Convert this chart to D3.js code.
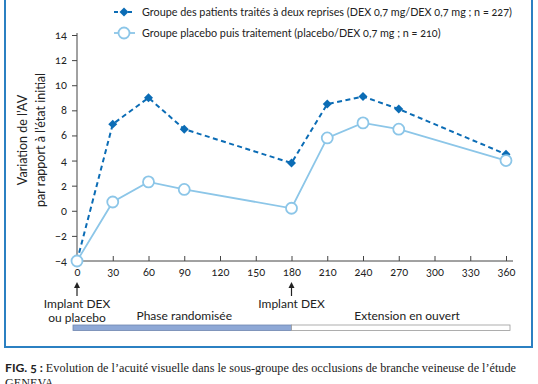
<!DOCTYPE html>
<html>
<head>
<meta charset="utf-8">
<script src="https://cdn.jsdelivr.net/npm/d3@7"></script>
<style>
  body { margin: 0; background: #fff; }
  svg text { font-family: Lato, "Open Sans", sans-serif; fill: #222; font-variant-numeric: oldstyle-nums; }
  .caption { font-family: "Liberation Serif", "DejaVu Serif", serif; }
</style>
</head>
<body>
<div id="chart"></div>
<script>
// Days since baseline
var days = [0, 30, 60, 90, 180, 210, 240, 270, 360];
// Change in visual acuity, DEX/DEX group
var dexDex = [-4, 6.9, 9.0, 6.5, 3.8, 8.5, 9.1, 8.1, 4.5];
// Change in visual acuity, placebo then DEX group
var placeboDex = [-4, 0.7, 2.3, 1.7, 0.2, 5.8, 7.0, 6.5, 4.0];
var xTicks = [0, 30, 60, 90, 120, 150, 180, 210, 240, 270, 300, 330, 360];
var yTicks = [-4, -2, 0, 2, 4, 6, 8, 10, 12, 14];
var legendLabels = [
  "Groupe des patients traités à deux reprises (DEX 0,7 mg/DEX 0,7 mg ; n = 227)",
  "Groupe placebo puis traitement (placebo/DEX 0,7 mg ; n = 210)"
];

var W = 538, H = 384;
var darkBlue = "#0b6cb5", lightBlue = "#8cc6e8", frameBlue = "#2b80c2";

var svg = d3.select("#chart").append("svg")
    .attr("width", W)
    .attr("height", H);

// frame (top edge is off the picture)
svg.append("rect")
    .attr("x", 5).attr("y", -10)
    .attr("width", 527).attr("height", 357)
    .attr("fill", "none")
    .attr("stroke", frameBlue)
    .attr("stroke-width", 2);

var x = d3.scaleLinear().domain([0, 360]).range([77, 506]);
var y = d3.scaleLinear().domain([-4, 14]).range([261, 35]);

// y axis
var yAxis = svg.append("g")
    .attr("transform", "translate(77,0)")
    .call(d3.axisLeft(y).tickValues(yTicks).tickSize(5).tickPadding(5));
yAxis.select(".domain").attr("d", "M0," + (y(14) - 2) + "V" + y(-4)).attr("stroke", "#444");
yAxis.selectAll("text").attr("font-size", 11);
yAxis.selectAll("line").attr("stroke", "#444");

// x axis
var xAxis = svg.append("g")
    .attr("transform", "translate(0,261)")
    .call(d3.axisBottom(x).tickValues(xTicks).tickSize(-5).tickPadding(5));
xAxis.select(".domain").attr("d", "M77,0H513").attr("stroke", "#444");
xAxis.selectAll("text").attr("font-size", 11).attr("dy", "0.9em");
xAxis.selectAll("line").attr("stroke", "#444");

// y label
svg.append("text")
    .attr("transform", "translate(27,140) rotate(-90)")
    .attr("text-anchor", "middle")
    .attr("font-size", 12.5)
    .text("Variation de l’AV");
svg.append("text")
    .attr("transform", "translate(45,140) rotate(-90)")
    .attr("text-anchor", "middle")
    .attr("font-size", 12.5)
    .text("par rapport à l’état initial");

var line = d3.line()
    .x(function(d) { return x(d[0]); })
    .y(function(d) { return y(d[1]); });

var lightData = days.map(function(d, i) { return [d, placeboDex[i]]; });
var darkData = days.map(function(d, i) { return [d, dexDex[i]]; });

// placebo series
svg.append("path")
    .datum(lightData)
    .attr("d", line)
    .attr("fill", "none")
    .attr("stroke", lightBlue)
    .attr("stroke-width", 1.8);

// DEX series
svg.append("path")
    .datum(darkData)
    .attr("d", line)
    .attr("fill", "none")
    .attr("stroke", darkBlue)
    .attr("stroke-width", 2)
    .attr("stroke-dasharray", "5,3.5");

var diamond = d3.symbol().type(d3.symbolSquare).size(40);

svg.selectAll(".dark")
    .data(darkData)
    .enter().append("path")
    .attr("class", "dark")
    .attr("d", diamond)
    .attr("transform", function(d) { return "translate(" + x(d[0]) + "," + y(d[1]) + ") rotate(45)"; })
    .attr("fill", darkBlue);

svg.selectAll(".light")
    .data(lightData)
    .enter().append("circle")
    .attr("class", "light")
    .attr("cx", function(d) { return x(d[0]); })
    .attr("cy", function(d) { return y(d[1]); })
    .attr("r", 5.5)
    .attr("fill", "#fff")
    .attr("stroke", lightBlue)
    .attr("stroke-width", 1.8);

// legend
var legend = svg.append("g");
legend.append("line")
    .attr("x1", 114).attr("x2", 135).attr("y1", 12).attr("y2", 12)
    .attr("stroke", darkBlue).attr("stroke-width", 2).attr("stroke-dasharray", "4,3");
legend.append("path")
    .attr("d", diamond)
    .attr("transform", "translate(124,12) rotate(45)")
    .attr("fill", darkBlue);
legend.append("line")
    .attr("x1", 114).attr("x2", 135).attr("y1", 33).attr("y2", 33)
    .attr("stroke", lightBlue).attr("stroke-width", 1.8);
legend.append("circle")
    .attr("cx", 124).attr("cy", 33).attr("r", 5.5)
    .attr("fill", "#fff").attr("stroke", lightBlue).attr("stroke-width", 1.8);
legend.selectAll("text")
    .data(legendLabels)
    .enter().append("text")
    .attr("x", 142)
    .attr("y", function(d, i) { return 12 + i * 21; })
    .attr("dy", "0.35em")
    .attr("font-size", 10.8)
    .text(function(d) { return d; });

// arrows and annotations
[0, 180].forEach(function(d) {
    svg.append("line")
        .attr("x1", x(d)).attr("x2", x(d))
        .attr("y1", 296).attr("y2", 285)
        .attr("stroke", "#222").attr("stroke-width", 1.2);
    svg.append("path")
        .attr("d", "M" + (x(d) - 3) + ",288L" + x(d) + ",282L" + (x(d) + 3) + ",288Z")
        .attr("fill", "#222");
});
svg.append("text").attr("x", x(0)).attr("y", 308).attr("text-anchor", "middle")
    .attr("font-size", 12).text("Implant DEX");
svg.append("text").attr("x", x(0)).attr("y", 322).attr("text-anchor", "middle")
    .attr("font-size", 12).text("ou placebo");
svg.append("text").attr("x", x(180)).attr("y", 308).attr("text-anchor", "middle")
    .attr("font-size", 12).text("Implant DEX");
svg.append("text").attr("x", x(90)).attr("y", 320).attr("text-anchor", "middle")
    .attr("font-size", 12).text("Phase randomisée");
svg.append("text").attr("x", x(277)).attr("y", 320).attr("text-anchor", "middle")
    .attr("font-size", 12).text("Extension en ouvert");

// phase bar
svg.append("rect")
    .attr("x", 73).attr("y", 325)
    .attr("width", x(180) - 73).attr("height", 5.5)
    .attr("fill", "#8ea8d6").attr("stroke", "#6f86b0").attr("stroke-width", 0.8);
svg.append("rect")
    .attr("x", x(180)).attr("y", 325)
    .attr("width", 510 - x(180)).attr("height", 5.5)
    .attr("fill", "#fff").attr("stroke", "#999").attr("stroke-width", 0.8);

// caption (second line is cut by the picture edge, as in the source)
var cap = svg.append("text")
    .attr("class", "caption")
    .attr("x", 5).attr("y", 372)
    .attr("font-size", 12.2);
cap.append("tspan").attr("font-weight", "bold").attr("font-family", "Lato, sans-serif")
    .text("FIG. 5 : ");
cap.append("tspan").text("Evolution de l’acuité visuelle dans le sous-groupe des occlusions de branche veineuse de l’étude");
svg.append("text")
    .attr("class", "caption")
    .attr("x", 5).attr("y", 387)
    .attr("font-size", 12.2)
    .text("GENEVA");
</script>
</body>
</html>
